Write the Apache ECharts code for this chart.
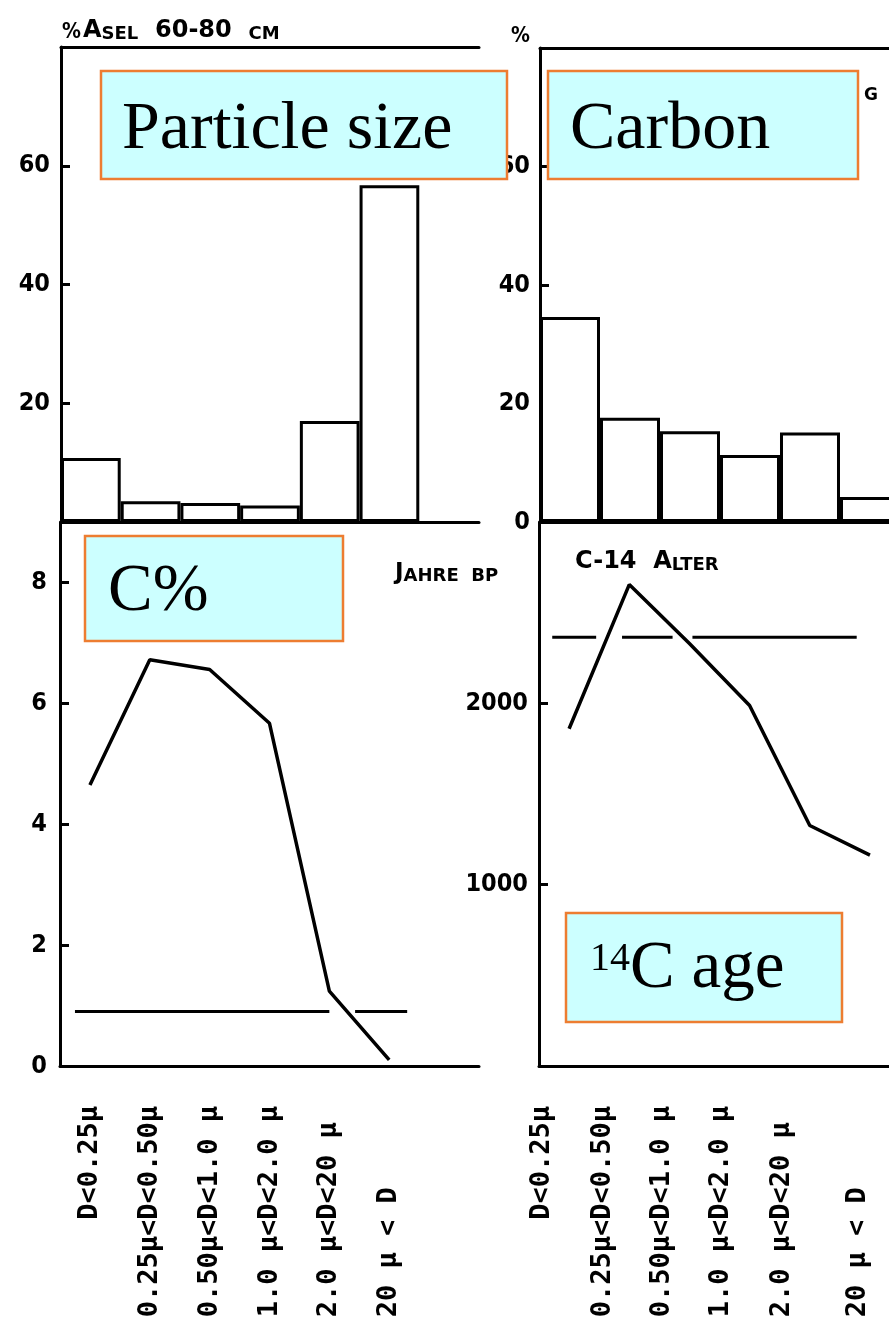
<!DOCTYPE html>
<html><head><meta charset="utf-8">
<script src="https://cdn.jsdelivr.net/npm/echarts@6/dist/echarts.min.js"></script>
<style>html,body{margin:0;padding:0;background:#fff}#c{width:889px;height:1338px}</style>
</head><body><div id="c"></div>
<script>
// ---- data ----
const categories = ["D<0.25\u03bc", "0.25\u03bc<D<0.50\u03bc", "0.50\u03bc<D<1.0 \u03bc", "1.0 \u03bc<D<2.0 \u03bc", "2.0 \u03bc<D<20 \u03bc", "20 \u03bc < D"];
const particleSize = [10.8, 3.5, 3.2, 2.8, 17.0, 56.7];      // % of sample
const carbonShare = [34.6, 17.6, 15.3, 11.3, 15.1, 4.2];      // % of total carbon
const carbonPercent = [4.65, 6.72, 6.56, 5.67, 1.24, 0.1];    // C %
const c14Age = [1860, 2655, 2330, 1988, 1326, 1163];          // years BP
const bulkCarbonPercent = 0.9;
const bulkCarbonSegments = [[-0.25, 4.0], [4.43, 5.3]];
const bulkC14Age = 2365;
const bulkC14Segments = [[-0.28, 0.45], [0.88, 1.72], [2.05, 4.78]];
const pctTicks = [20, 40, 60];
const pctLabelsLeft = [20, 40, 60];
const pctLabelsRight = [0, 20, 40, 60];
const cTicks = [2, 4, 6, 8];
const cLabels = [0, 2, 4, 6, 8];
const ageTicks = [1000, 2000];
const ageLabels = [1000, 2000];

const axisCats = categories.concat(['']);
const BLACK = '#000';
const numFont = '"DejaVu Sans Condensed", "DejaVu Sans", sans-serif';
const monoFont = '"DejaVu Sans Mono", monospace';
const RIGHT_MAX = 5.3167;     // right panels are cut by the picture edge
const LABEL_SHIFTS = [0.45, 0.43, 0.45, 0.47, 0.47, 0.2];  // right-panel labels sit left of the data points

function padLabel(s) {
  const i = s.indexOf('D');
  const lead = Math.max(0, 6 - i);
  let t = ' '.repeat(lead) + s;
  t = t + ' '.repeat(Math.max(0, 13 - t.length));
  return t;
}
const catLabelStyle = {
  show: true, rotate: 90, margin: 40, color: BLACK,
  fontFamily: monoFont, fontSize: 27, fontWeight: 'bold'
};
const axLine = { show: true, onZero: false, lineStyle: { color: BLACK, width: 3 } };

function yAx(grid, max, ticks, labels, margin) {
  return {
    type: 'value', gridIndex: grid, min: 0, max: max,
    axisLine: axLine,
    axisTick: { show: true, inside: true, length: 9, customValues: ticks, lineStyle: { color: BLACK, width: 3 } },
    axisLabel: { show: true, customValues: labels, margin: margin, color: BLACK, fontFamily: numFont,
      fontSize: 25, fontWeight: 'bold', formatter: v => String(v) },
    splitLine: { show: false }
  };
}
function xCat(grid, pos, showLabels) {
  return {
    type: 'category', gridIndex: grid, position: pos, data: axisCats, boundaryGap: true,
    axisLine: axLine, axisTick: { show: false },
    axisLabel: showLabels ? Object.assign({ interval: 0, formatter: v => v ? padLabel(v) : '' }, catLabelStyle) : { show: false },
    splitLine: { show: false }
  };
}
function xValLeft(grid) {
  return { type: 'value', gridIndex: grid, min: -0.5, max: 6.5, show: false };
}
function xValRight(grid, pos, showLabels) {
  const pos2cat = {};
  categories.forEach((c, i) => { pos2cat[(i - LABEL_SHIFTS[i]).toFixed(3)] = c; });
  return {
    type: 'value', gridIndex: grid, position: pos, min: -0.5, max: RIGHT_MAX,
    axisLine: axLine, axisTick: { show: false }, splitLine: { show: false },
    axisLabel: showLabels ? Object.assign({
      customValues: categories.map((c, i) => i - LABEL_SHIFTS[i]),
      formatter: v => padLabel(pos2cat[Number(v).toFixed(3)] || '')
    }, catLabelStyle) : { show: false }
  };
}
function segSeries(xAxisIndex, yAxisIndex, segs, val) {
  return segs.map(s => ({
    type: 'line', xAxisIndex, yAxisIndex, data: [[s[0], val], [s[1], val]],
    symbol: 'none', silent: true, lineStyle: { color: BLACK, width: 3 }, z: 3
  }));
}
const barStyle = { color: '#fff', borderColor: BLACK, borderWidth: 3 };

function box(x, y, w, h) {
  return { type: 'rect', z: 100, shape: { x, y, width: w, height: h },
    style: { fill: '#CCFFFF', stroke: '#ED7D31', lineWidth: 2.5 } };
}
function serifText(x, y, text, size) {
  return { type: 'text', z: 101, x, y,
    style: { text, fill: BLACK, fontFamily: '"Liberation Serif", "Times New Roman", serif', fontSize: size,
      align: 'left', verticalAlign: 'middle' } };
}
function capsText(x, y, text, big, small) {
  return { type: 'text', z: 50, x, y,
    style: { text, fill: BLACK, align: 'left', verticalAlign: 'bottom',
      rich: {
        a: { fontFamily: '"DejaVu Sans", sans-serif', fontSize: big, fontWeight: 'bold', verticalAlign: 'bottom', lineHeight: big },
        b: { fontFamily: '"DejaVu Sans", sans-serif', fontSize: small, fontWeight: 'bold', verticalAlign: 'bottom', lineHeight: big }
      } } };
}
function plainText(x, y, text, size, family) {
  return { type: 'text', z: 50, x, y, style: { text, fill: BLACK, fontFamily: family || '"DejaVu Sans", sans-serif', fontSize: size, fontWeight: 'bold' } };
}

const chart = echarts.init(document.getElementById('c'), null, { renderer: 'canvas' });
chart.setOption({
  animation: false,
  backgroundColor: '#fff',
  grid: [
    { left: 61, top: 47, width: 418, height: 475 },
    { left: 540, top: 48, right: 0, height: 474 },
    { left: 60, top: 522, width: 419, height: 544 },
    { left: 539, top: 522, right: 0, height: 544 }
  ],
  xAxis: [
    xCat(0, 'bottom', false), xCat(0, 'top', false),
    xValRight(1, 'bottom', false), xValRight(1, 'top', false),
    xCat(2, 'bottom', true), xValLeft(2),
    xValRight(3, 'bottom', true)
  ],
  yAxis: [
    yAx(0, 80, pctTicks, pctLabelsLeft, 11),
    yAx(1, 80, pctTicks, pctLabelsRight, 10),
    yAx(2, 9, cTicks, cLabels, 13),
    yAx(3, 3000, ageTicks, ageLabels, 11)
  ],
  series: [
    { type: 'bar', xAxisIndex: 0, yAxisIndex: 0, data: particleSize, barCategoryGap: '0%', itemStyle: barStyle },
    { type: 'bar', xAxisIndex: 2, yAxisIndex: 1, data: carbonShare.map((v, i) => [i, v]), barWidth: 60, itemStyle: barStyle },
    { type: 'line', xAxisIndex: 4, yAxisIndex: 2, data: carbonPercent, symbol: 'none', lineStyle: { color: BLACK, width: 3.5 }, z: 4 },
    { type: 'line', xAxisIndex: 6, yAxisIndex: 3, data: c14Age.map((v, i) => [i, v]), symbol: 'none', lineStyle: { color: BLACK, width: 3.5 }, z: 4 }
  ].concat(segSeries(5, 2, bulkCarbonSegments, bulkCarbonPercent))
   .concat(segSeries(6, 3, bulkC14Segments, bulkC14Age)),
  graphic: [
    plainText(62, 22, '%', 21, numFont),
    capsText(83, 43, '{a|A}{b|SEL}{a|  60-80  }{b|CM}', 24, 18),
    plainText(511, 26, '%', 21, numFont),
    plainText(864, 87, 'G', 17),
    capsText(395, 585, '{a|J}{b|AHRE}{b|  BP}', 23, 18),
    capsText(575, 574, '{a|C-14  A}{b|LTER}', 24, 18),
    box(101, 71, 406, 108), serifText(122, 130, 'Particle size', 68),
    box(548, 71, 310, 108), serifText(570, 130, 'Carbon', 68),
    box(85, 536, 258, 105), serifText(108, 592, 'C%', 67),
    box(566, 913, 276, 109), serifText(590, 959, '14', 40), serifText(630, 969, 'C age', 67)
  ]
});
</script></body></html>
